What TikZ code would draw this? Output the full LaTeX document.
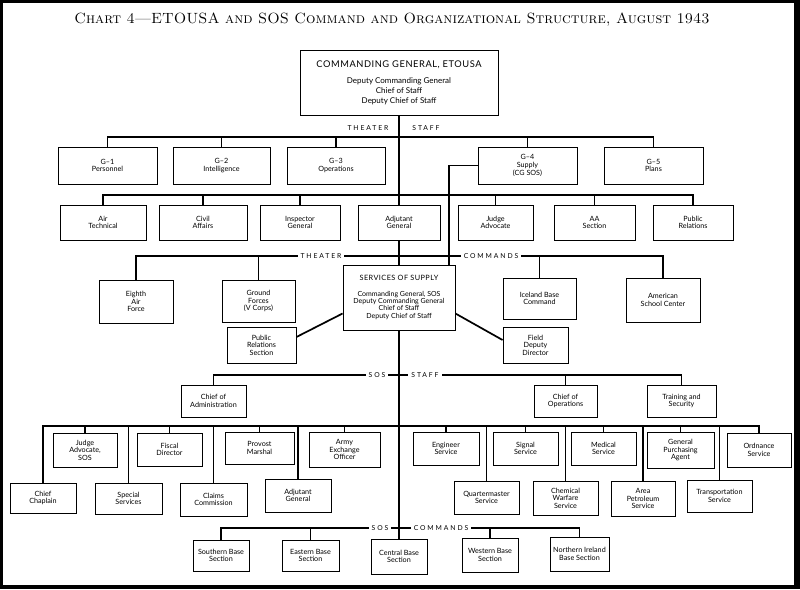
\documentclass[tikz,border=0pt]{standalone}
\usepackage{fontspec}
\newfontfamily\boxfont{Lato}
\newfontfamily\spfont[LetterSpace=28]{Lato}
\newfontfamily\capfont[LetterSpace=6]{Lato}
\usetikzlibrary{calc}
\pgfdeclarelayer{back}
\pgfdeclarelayer{lines}
\pgfsetlayers{back,lines,main}
\tikzset{
  box/.style={draw, line width=0.9pt, fill=white, align=center, inner sep=0.5pt,
    font=\boxfont\fontsize{7.2}{7.6}\selectfont},
  bigbox/.style={box, font=\boxfont\fontsize{8}{9.6}\selectfont},
  sosbox/.style={box, font=\boxfont\fontsize{7}{7.3}\selectfont},
  conn/.style={line width=1.7pt},
  lbl/.style={font=\spfont\fontsize{6.8}{7}\selectfont, fill=white, inner xsep=3pt, inner ysep=1pt},
  lbltop/.style={font=\spfont\fontsize{6.8}{7}\selectfont, inner sep=0pt},
}
\newcommand\bx[6]{\node[box, minimum width={(#3)-(#2)}, minimum height={(#5)-(#4)}] (#1) at ({((#2)+(#3))/2},{((#4)+(#5))/2}) {#6};}
\begin{document}
\begin{tikzpicture}[x=1pt,y=-1pt]
\useasboundingbox (0,0) rectangle (800,589);
\begin{pgfonlayer}{back}
\fill[black] (0,0) rectangle (800,589);
\fill[white] (3,3) rectangle (794,585);
\end{pgfonlayer}
\node (title) at (392,20) {\resizebox{635pt}{!}{\scshape Chart 4---ETOUSA and SOS Command and Organizational Structure, August 1943}};

% bus coordinates
\coordinate (busG) at (399,137);
\coordinate (busR) at (399,195);
\coordinate (busT) at (399,256);
\coordinate (busS) at (399,375);
\coordinate (busB) at (399,426);
\coordinate (busC) at (399,528);

% ---- boxes ----
\node[bigbox, minimum width=198, minimum height=65] (top) at (399,82.5)
  {{\capfont\fontsize{9.3}{10}\selectfont COMMANDING GENERAL, ETOUSA}\\[7pt]
   Deputy Commanding General\\Chief of Staff\\Deputy Chief of Staff};
\node[sosbox, minimum width=112, minimum height=65] (sos) at (399,297.5)
  {{\capfont\fontsize{7.3}{8}\selectfont SERVICES OF SUPPLY}\\[8pt]
   Commanding General, SOS\\Deputy Commanding General\\Chief of Staff\\Deputy Chief of Staff};

\bx{g1}{58}{157}{147}{184}{G–1\\Personnel}
\bx{g2}{173}{270}{147}{184}{G–2\\Intelligence}
\bx{g3}{287}{385}{147}{184}{G–3\\Operations}
\bx{g4}{478}{577}{147}{184}{G–4\\Supply\\(CG SOS)}
\bx{g5}{604}{703}{147}{184}{G–5\\Plans}

\bx{at}{60}{146}{205}{240}{Air\\Technical}
\bx{ca}{159}{247}{205}{240}{Civil\\Affairs}
\bx{ig}{260}{340}{205}{240}{Inspector\\General}
\bx{ag}{358}{440}{205}{240}{Adjutant\\General}
\bx{ja}{458}{533}{205}{240}{Judge\\Advocate}
\bx{aa}{554}{635}{205}{240}{AA\\Section}
\bx{pr}{653}{733}{205}{240}{Public\\Relations}

\bx{eaf}{99}{173}{280}{323}{Eighth\\Air\\Force}
\bx{gf}{222}{295}{280}{322}{Ground\\Forces\\(V Corps)}
\bx{ibc}{503}{576}{278}{319}{Iceland Base\\Command}
\bx{asc}{626}{700}{278}{322}{American\\School Center}

\bx{prs}{227}{296}{327}{363}{Public\\Relations\\Section}
\bx{fdd}{503}{568}{327}{363}{Field\\Deputy\\Director}

\bx{coa}{181}{246}{385}{417}{Chief of\\Administration}
\bx{cop}{534}{597}{385}{417}{Chief of\\Operations}
\bx{tas}{647}{716}{385}{417}{Training and\\Security}

\bx{jas}{53}{117}{433}{467}{Judge\\Advocate,\\SOS}
\bx{fd}{137}{202}{433}{466}{Fiscal\\Director}
\bx{pm}{225}{294}{432}{464}{Provost\\Marshal}
\bx{aeo}{309}{380}{432}{467}{Army\\Exchange\\Officer}
\bx{es}{413}{479}{432}{465}{Engineer\\Service}
\bx{sg}{493}{558}{432}{465}{Signal\\Service}
\bx{ms}{571}{636}{432}{465}{Medical\\Service}
\bx{gpa}{647}{714}{432}{468}{General\\Purchasing\\Agent}
\bx{os}{727}{791}{433}{467}{Ordnance\\Service}

\bx{cc}{10}{76}{483}{513}{Chief\\Chaplain}
\bx{ss}{95}{162}{483}{514}{Special\\Services}
\bx{cl}{180}{247}{483}{516}{Claims\\Commission}
\bx{ag2}{265}{331}{479}{512}{Adjutant\\General}
\bx{qs}{454}{519}{481}{514}{Quartermaster\\Service}
\bx{cw}{533}{598}{481}{515}{Chemical\\Warfare\\Service}
\bx{ap}{611}{675}{481}{516}{Area\\Petroleum\\Service}
\bx{ts}{687}{752}{480}{512}{Transportation\\Service}

\bx{sbs}{193}{249}{540}{571}{Southern Base\\Section}
\bx{ebs}{282}{339}{540}{571}{Eastern Base\\Section}
\bx{cbs}{371}{427}{539}{574}{Central Base\\Section}
\bx{wbs}{462}{518}{538}{572}{Western Base\\Section}
\bx{nibs}{550}{609}{537}{571}{Northern Ireland\\Base Section}

% ---- labels on buses ----
\node[lbltop] (ths) at (368,128) {THEATER};
\node[lbltop] (sts) at (426,128) {STAFF};
\node[lbl] (thc) at (321,256) {THEATER};
\node[lbl] (cmc) at (491,256) {COMMANDS};
\node[lbl] (sosS) at (377,375) {SOS};
\node[lbl] (stS) at (425,375) {STAFF};
\node[lbl] (sosC) at (380,528) {SOS};
\node[lbl] (cmC) at (441,528) {COMMANDS};

% ---- connectors ----
\begin{pgfonlayer}{lines}
\draw[conn] (top.south) -- (sos.north);
\draw[conn] (sos.south) -- (cbs.north);
\draw[conn] (g4.west) -| ($(sos.north)+(50,0)$);
\draw[conn] ($(sos.west)+(0,16)$) -- ($(prs.east)+(0,-8)$);
\draw[conn] ($(sos.east)+(0,16)$) -- ($(fdd.west)+(0,-5)$);

\draw[conn] (g1.north) |- (busG) -| (g5.north);
\foreach \n in {g2,g3,g4} \draw[conn] (\n.north) -- (\n.north |- busG);

\draw[conn] (at.north) |- (busR) -| (pr.north);
\foreach \n in {ca,ig,ja,aa} \draw[conn] (\n.north) -- (\n.north |- busR);

\draw[conn] (eaf.north) |- (busT) -| (asc.north);
\foreach \n in {gf,ibc} \draw[conn] (\n.north) -- (\n.north |- busT);

\draw[conn] (coa.north) |- (busS) -| (tas.north);
\draw[conn] (cop.north) -- (cop.north |- busS);

\draw[conn] (cc.north) |- (busB) -| (os.north);
\foreach \n in {jas,ss,fd,cl,pm,ag2,aeo,es,qs,sg,cw,ms,ap,gpa,ts}
  \draw[conn] (\n.north) -- (\n.north |- busB);

\draw[conn] (sbs.north) |- (busC) -| (nibs.north);
\foreach \n in {ebs,wbs} \draw[conn] (\n.north) -- (\n.north |- busC);
\end{pgfonlayer}
\end{tikzpicture}
\end{document}
